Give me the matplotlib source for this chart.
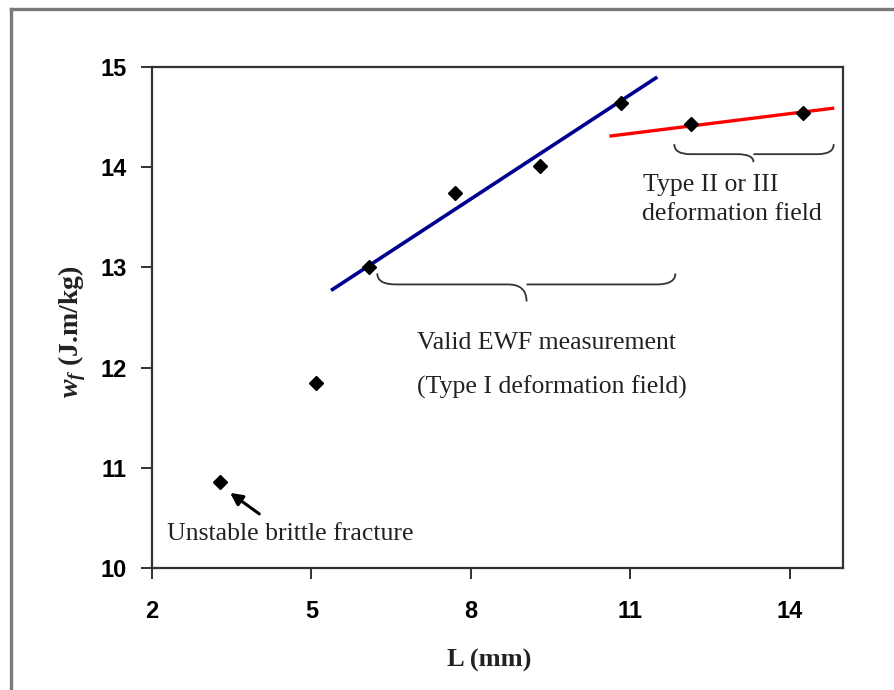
import numpy as np
import matplotlib
matplotlib.use('Agg')
import matplotlib.pyplot as plt
from matplotlib.path import Path
from matplotlib.patches import PathPatch
from matplotlib.lines import Line2D

# %% Data: ligament length vs specific work of fracture
L_mm = [3.28, 5.09, 6.09, 7.70, 9.30, 10.83, 12.15, 14.26]
wf = [10.86, 11.85, 13.00, 13.74, 14.01, 14.64, 14.43, 14.54]

# linear fit, type I region
fit1_x = [5.37, 11.51]
fit1_y = [12.77, 14.90]
# fit, type II/III region
fit2_x = [10.61, 14.84]
fit2_y = [14.31, 14.59]

x_ticks = [2, 5, 8, 11, 14]
y_ticks = [10, 11, 12, 13, 14, 15]

# brace spans: (x_left, x_right, x_tip, y_end, y_line, y_tip)
brace_valid = (6.24, 11.85, 9.05, 12.94, 12.83, 12.66)
brace_type23 = (11.83, 14.83, 13.32, 14.23, 14.13, 14.05)

# %% Plot settings
plt.rcParams['mathtext.fontset'] = 'custom'
plt.rcParams['mathtext.rm'] = 'Liberation Serif:bold'
plt.rcParams['mathtext.it'] = 'Liberation Serif:italic:bold'

serif = 'Liberation Serif'
sans = 'Liberation Sans'
spine_col = '#333333'
txt_col = '#222222'


def draw_brace(ax, spec, r=0.32, color='#333333', lw=1.3):
    x0, x1, xm, y_end, y_line, y_tip = spec
    verts = [(x0, y_end), (x0, y_line), (x0 + r, y_line),
             (xm - r, y_line),
             (xm, y_line), (xm, y_tip),
             (xm, y_line), (xm + r, y_line),
             (x1 - r, y_line),
             (x1, y_line), (x1, y_end)]
    codes = [Path.MOVETO, Path.CURVE3, Path.CURVE3,
             Path.LINETO,
             Path.CURVE3, Path.CURVE3,
             Path.MOVETO, Path.CURVE3,
             Path.LINETO,
             Path.CURVE3, Path.CURVE3]
    codes[6] = Path.MOVETO
    ax.add_patch(PathPatch(Path(verts, codes), fill=False, edgecolor=color, lw=lw,
                           clip_on=False))


fig = plt.figure(figsize=(8.95, 6.9), dpi=100)
ax = fig.add_axes([0.1698, 0.1768, 0.9416 - 0.1698, 0.9029 - 0.1768])

ax.plot(fit1_x, fit1_y, color='#000090', lw=2.6, solid_capstyle='butt', zorder=2)
ax.plot(fit2_x, fit2_y, color='#ff0000', lw=2.4, solid_capstyle='butt', zorder=2)
ax.plot(L_mm, wf, linestyle='none', marker='D', markersize=7.5, color='black', zorder=3)

ax.set_xlim(2, 15)
ax.set_ylim(10, 15)
ax.set_xticks(x_ticks)
ax.set_yticks(y_ticks)
ax.tick_params(direction='out', length=8, width=1.4, color=spine_col)
for lab in ax.get_xticklabels() + ax.get_yticklabels():
    lab.set_fontfamily(sans)
    lab.set_fontweight('bold')
    lab.set_fontsize(17)
ax.tick_params(axis='y', pad=10)
ax.tick_params(axis='x', pad=15)
for sp in ax.spines.values():
    sp.set_color(spine_col)
    sp.set_linewidth(1.6)

# braces and labels
draw_brace(ax, brace_valid, r=0.35)
draw_brace(ax, brace_type23, r=0.3)

ann_size = 18.5
ax.text(6.99, 12.25, 'Valid EWF measurement', family=serif, fontsize=ann_size,
        color=txt_col, va='center', ha='left')
ax.text(6.98, 11.80, '(Type I deformation field)', family=serif, fontsize=ann_size,
        color=txt_col, va='center', ha='left')
ax.text(11.24, 13.82, 'Type II or III', family=serif, fontsize=ann_size,
        color=txt_col, va='center', ha='left')
ax.text(11.23, 13.53, 'deformation field', family=serif, fontsize=ann_size,
        color=txt_col, va='center', ha='left')
ax.text(2.28, 10.34, 'Unstable brittle fracture', family=serif, fontsize=ann_size,
        color=txt_col, va='center', ha='left')
ax.annotate('', xy=(3.47, 10.75), xytext=(4.02, 10.54),
            arrowprops=dict(arrowstyle='-|>', color='black', lw=2.2,
                            mutation_scale=18, shrinkA=0, shrinkB=0))

# axis labels
fig.text(489 / 895, 1 - 660 / 690, 'L (mm)', family=serif, fontweight='bold',
         fontsize=19, color=txt_col, ha='center', va='center')
fig.text(72 / 895, 1 - 332 / 690, r'$w_f$ (J.m/kg)', family=serif, fontweight='bold',
         fontsize=20, color=txt_col, ha='center', va='center', rotation=90)

# outer frame (top and left edges)
fig.add_artist(Line2D([11.5 / 895, 1.0], [1 - 8.5 / 690, 1 - 8.5 / 690],
                      transform=fig.transFigure, color='#7a7a7a', lw=2.4))
fig.add_artist(Line2D([11.5 / 895, 11.5 / 895], [0.0, 1 - 8.5 / 690],
                      transform=fig.transFigure, color='#7a7a7a', lw=2.4))

fig.savefig('out.png', dpi=100)
